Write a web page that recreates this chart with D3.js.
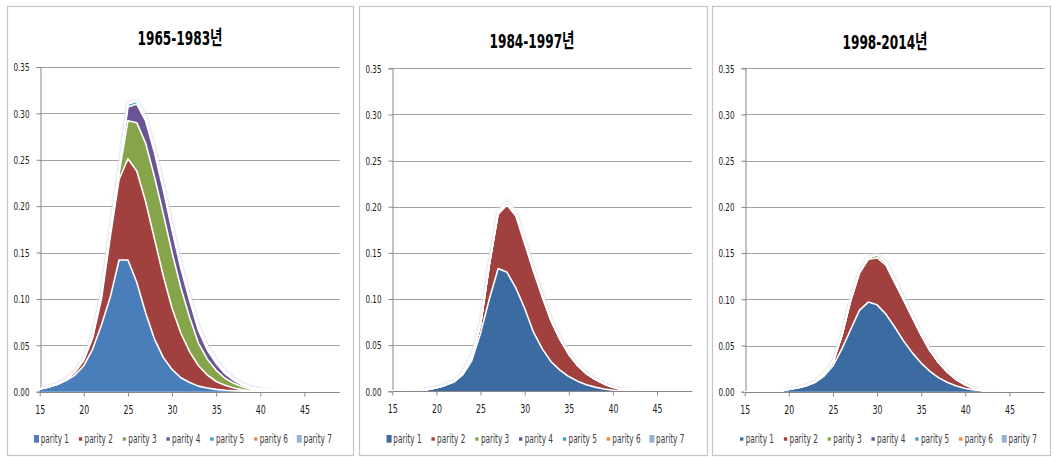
<!DOCTYPE html>
<html>
<head>
<meta charset="utf-8">
<script src="https://cdn.jsdelivr.net/npm/d3@7/dist/d3.min.js"></script>
<style>
  html, body { margin: 0; padding: 0; background: #fff; }
  svg { display: block; }
</style>
</head>
<body>
<svg id="chart" width="1054" height="457"></svg>
<script>
// Age categories (x axis) and axis labels
const ages = [15,16,17,18,19,20,21,22,23,24,25,26,27,28,29,30,31,32,33,34,35,36,37,38,39,40,41,42,43,44,45,46,47,48,49];
const xTickLabels = ["15","20","25","30","35","40","45"];
const yTickLabels = ["0.00","0.05","0.10","0.15","0.20","0.25","0.30","0.35"];
const seriesNames = ["parity 1","parity 2","parity 3","parity 4","parity 5","parity 6","parity 7"];
const periodTitles = ["1965-1983년","1984-1997년","1998-2014년"];

// 1965-1983: age-specific fertility by birth order (ages 15..49)
const p1_1965 = [0.003,0.005,0.008,0.012,0.018,0.028,0.046,0.072,0.102,0.142,0.142,0.118,0.085,0.057,0.037,0.024,0.015,0.010,0.006,0.004,0.0025,0.0015,0.001,0.0006,0.0004,0.0002,0.0001,0,0,0,0,0,0,0,0];
const p2_1965 = [0,0,0,0.001,0.003,0.006,0.012,0.028,0.065,0.087,0.109,0.120,0.120,0.108,0.088,0.066,0.048,0.033,0.022,0.014,0.0085,0.0055,0.003,0.0014,0.0006,0.0003,0.0001,0,0,0,0,0,0,0,0];
const p3_1965 = [0,0,0,0,0.001,0.001,0.002,0.004,0.005,0.007,0.041,0.052,0.063,0.067,0.067,0.060,0.049,0.037,0.024,0.017,0.012,0.0075,0.005,0.003,0.0017,0.0009,0.0004,0.0002,0,0,0,0,0,0,0];
const p4_1965 = [0,0,0,0,0.0001,0.0002,0.0003,0.0005,0.001,0.002,0.015,0.020,0.024,0.026,0.026,0.024,0.021,0.018,0.014,0.010,0.0075,0.005,0.0032,0.002,0.0011,0.0006,0.0003,0.0001,0,0,0,0,0,0,0];
const p5_1965 = [0,0,0,0,0,0.0001,0.0002,0.0003,0.0005,0.001,0.003,0.003,0.003,0.003,0.003,0.003,0.003,0.003,0.003,0.003,0.0025,0.002,0.0013,0.0008,0.0005,0.0003,0.0001,0.0001,0,0,0,0,0,0,0];
const p6_1965 = [0,0,0,0,0,0,0,0,0.0001,0.0002,0.0003,0.0005,0.0006,0.0008,0.001,0.001,0.001,0.001,0.001,0.001,0.0005,0.0005,0.0004,0.0003,0.0002,0.0001,0.0001,0,0,0,0,0,0,0,0];
const p7_1965 = [0,0,0,0,0,0,0,0,0,0,0,0,0.0002,0.0002,0.0002,0.0002,0.0002,0.0002,0.0002,0.0001,0.0001,0,0,0,0,0,0,0,0,0,0,0,0,0,0];

// 1984-1997
const p1_1984 = [0,0,0,0.001,0.002,0.004,0.0065,0.010,0.018,0.033,0.063,0.100,0.133,0.129,0.112,0.090,0.064,0.046,0.032,0.023,0.016,0.011,0.007,0.0045,0.0025,0.0012,0.0005,0.0002,0,0,0,0,0,0,0];
const p2_1984 = [0,0,0,0,0,0,0.0002,0.001,0.002,0.004,0.009,0.037,0.059,0.073,0.078,0.070,0.066,0.056,0.044,0.033,0.024,0.017,0.012,0.0085,0.0055,0.0033,0.0015,0.0008,0.0002,0,0,0,0,0,0];
const p3_1984 = [0,0,0,0,0,0,0,0,0,0.0003,0.0005,0.001,0.002,0.003,0.003,0.0025,0.002,0.0015,0.001,0.0008,0.0005,0.0003,0.0002,0.0001,0,0,0,0,0,0,0,0,0,0,0];
const p4_1984 = [0,0,0,0,0,0,0,0,0,0,0,0,0.0002,0.0003,0.0003,0.0003,0.0002,0.0002,0.0001,0,0,0,0,0,0,0,0,0,0,0,0,0,0,0,0];
const p5_1984 = [0,0,0,0,0,0,0,0,0,0,0,0,0,0.0001,0.0001,0.0001,0.0001,0,0,0,0,0,0,0,0,0,0,0,0,0,0,0,0,0,0];
const p6_1984 = [0,0,0,0,0,0,0,0,0,0,0,0,0,0,0,0,0,0,0,0,0,0,0,0,0,0,0,0,0,0,0,0,0,0,0];
const p7_1984 = [0,0,0,0,0,0,0,0,0,0,0,0,0,0,0,0,0,0,0,0,0,0,0,0,0,0,0,0,0,0,0,0,0,0,0];

// 1998-2014
const p1_1998 = [0,0,0,0,0.0005,0.0025,0.004,0.0065,0.010,0.017,0.028,0.046,0.067,0.088,0.097,0.094,0.084,0.070,0.055,0.042,0.031,0.022,0.015,0.010,0.0062,0.0035,0.0018,0.0007,0.0002,0,0,0,0,0,0];
const p2_1998 = [0,0,0,0,0,0.0001,0.0002,0.0003,0.001,0.002,0.004,0.014,0.031,0.040,0.046,0.051,0.053,0.048,0.044,0.038,0.030,0.022,0.016,0.011,0.0068,0.004,0.0017,0.0005,0.0001,0,0,0,0,0,0];
const p3_1998 = [0,0,0,0,0,0,0,0,0,0,0,0.0005,0.001,0.0015,0.002,0.003,0.003,0.0025,0.002,0.0015,0.001,0.0007,0.0004,0.0002,0.0001,0,0,0,0,0,0,0,0,0,0];
const p4_1998 = [0,0,0,0,0,0,0,0,0,0,0,0,0,0.0001,0.0002,0.0002,0.0002,0.0002,0.0001,0.0001,0,0,0,0,0,0,0,0,0,0,0,0,0,0,0];
const p5_1998 = [0,0,0,0,0,0,0,0,0,0,0,0,0,0,0,0.0001,0.0001,0,0,0,0,0,0,0,0,0,0,0,0,0,0,0,0,0,0];
const p6_1998 = [0,0,0,0,0,0,0,0,0,0,0,0,0,0,0,0,0,0,0,0,0,0,0,0,0,0,0,0,0,0,0,0,0,0,0];
const p7_1998 = [0,0,0,0,0,0,0,0,0,0,0,0,0,0,0,0,0,0,0,0,0,0,0,0,0,0,0,0,0,0,0,0,0,0,0];

const seriesColors = ["#4a7ebb","#a0413f","#86a44a","#6b5495","#3ea4c2","#f08a3a","#95b3d7"];

const periods = [
  { title: periodTitles[0], data: [p1_1965,p2_1965,p3_1965,p4_1965,p5_1965,p6_1965,p7_1965],
    blue: "#4a7ebb", px: 7, pw: 346, plotLeft: 39.7, plotTop: 67, plotBottom: 391.7, titleY: 45, bigMarkers: [0,6] },
  { title: periodTitles[1], data: [p1_1984,p2_1984,p3_1984,p4_1984,p5_1984,p6_1984,p7_1984],
    blue: "#3b6ba0", px: 359, pw: 348, plotLeft: 392.3, plotTop: 68.3, plotBottom: 391.3, titleY: 48, bigMarkers: [0,6] },
  { title: periodTitles[2], data: [p1_1998,p2_1998,p3_1998,p4_1998,p5_1998,p6_1998,p7_1998],
    blue: "#3b6ba0", px: 712, pw: 338, plotLeft: 744.7, plotTop: 68.3, plotBottom: 391.7, titleY: 49, bigMarkers: [6] }
];

const FONT = "'Liberation Sans Narrow','DejaVu Sans Condensed','Liberation Sans','Noto Sans CJK KR',sans-serif";
const svg = d3.select("#chart").style("font-family", FONT);

const defs = svg.append("defs");
defs.append("filter").attr("id", "glow").attr("x", "-5%").attr("y", "-5%").attr("width", "110%").attr("height", "110%")
  .append("feGaussianBlur").attr("stdDeviation", 1.1);

const keys = seriesNames;
const yTickValues = yTickLabels.map(Number);
const xTickValues = xTickLabels.map(Number);

periods.forEach((P, pi) => {
  const g = svg.append("g");
  const plotWidth = 300;
  const plotRight = P.plotLeft + plotWidth;

  // halo clip: keep the glow off the baseline
  defs.append("clipPath").attr("id", `haloClip${pi}`)
    .append("rect")
    .attr("x", P.plotLeft).attr("y", P.plotTop - 20)
    .attr("width", plotWidth + 4).attr("height", P.plotBottom - 3.5 - (P.plotTop - 20));

  // panel frame
  g.append("rect")
    .attr("x", P.px + 0.5).attr("y", 6.5)
    .attr("width", P.pw).attr("height", 449)
    .attr("fill", "#fff").attr("stroke", "#c4c4c4").attr("stroke-width", 1.2);

  // title
  g.append("text")
    .attr("x", P.px + 173).attr("y", P.titleY)
    .attr("text-anchor", "middle")
    .attr("font-size", 20).attr("font-weight", "bold")
    .attr("fill", "#000")
    .attr("textLength", 85).attr("lengthAdjust", "spacingAndGlyphs")
    .text(P.title);

  const x = d3.scaleLinear().domain([ages[0], ages[ages.length - 1]]).range([P.plotLeft, plotRight]);
  const y = d3.scaleLinear().domain([0, 0.35]).range([P.plotBottom, P.plotTop]);

  // horizontal gridlines
  g.append("g").selectAll("line")
    .data(yTickValues.slice(1))
    .join("line")
    .attr("x1", P.plotLeft).attr("x2", plotRight)
    .attr("y1", d => Math.round(y(d)) + 0.5).attr("y2", d => Math.round(y(d)) + 0.5)
    .attr("stroke", "#a3a3a3").attr("stroke-width", 1);

  // y axis
  const yAxis = d3.axisLeft(y).tickValues(yTickValues).tickFormat((d, i) => yTickLabels[i])
    .tickSize(4).tickPadding(7);
  const ya = g.append("g").attr("transform", `translate(${Math.round(P.plotLeft) + 0.5},0)`).call(yAxis);
  ya.select(".domain").attr("stroke", "#868686");
  ya.selectAll(".tick line").attr("stroke", "#868686");
  ya.selectAll(".tick text").attr("font-size", 10.5).attr("fill", "#1a1a1a")
    .style("font-family", FONT).attr("dy", "0.36em")
    .attr("textLength", 16).attr("lengthAdjust", "spacingAndGlyphs");

  // stacked areas
  const table = ages.map((a, i) => {
    const row = { age: a };
    keys.forEach((k, j) => { row[k] = P.data[j][i]; });
    return row;
  });
  const stacked = d3.stack().keys(keys)(table);
  const colors = seriesColors.slice(); colors[0] = P.blue;

  const area = d3.area().x(d => x(d.data.age)).y0(d => y(d[0])).y1(d => y(d[1]));
  const topLine = d3.line().x(d => x(d.data.age)).y(d => y(d[1]));

  const total = stacked[stacked.length - 1];
  // soft halo around the outer edge
  g.append("path").datum(total).attr("d", topLine)
    .attr("clip-path", `url(#haloClip${pi})`)
    .attr("fill", "none").attr("stroke", "#d3dae3").attr("stroke-width", 3.2)
    .attr("filter", "url(#glow)");

  g.append("g").selectAll("path")
    .data(stacked).join("path")
    .attr("d", area).attr("fill", (d, i) => colors[i]);

  g.append("g").selectAll("path")
    .data(stacked).join("path")
    .attr("d", topLine).attr("fill", "none")
    .attr("stroke", "#fff").attr("stroke-width", 1.6).attr("stroke-linejoin", "round");

  // x axis
  const xAxis = d3.axisBottom(x).tickValues(xTickValues).tickFormat((d, i) => xTickLabels[i])
    .tickSize(4).tickSizeOuter(0);
  const xa = g.append("g").attr("transform", `translate(0,${Math.round(P.plotBottom) + 0.5})`).call(xAxis);
  xa.select(".domain").attr("stroke", "#868686").attr("d", `M${P.plotLeft},0H${plotRight}`);
  xa.selectAll(".tick line").attr("stroke", "#868686");
  xa.selectAll(".tick text").attr("font-size", 11.5).attr("fill", "#1a1a1a")
    .style("font-family", FONT).attr("y", 13.3).attr("dy", "0.71em")
    .attr("textLength", 10).attr("lengthAdjust", "spacingAndGlyphs");

  // legend
  const lg = g.append("g");
  seriesNames.forEach((name, i) => {
    const tx = P.plotLeft + 1 + i * 43.8;
    const big = P.bigMarkers.includes(i);
    lg.append("rect")
      .attr("x", big ? tx - 6.7 : tx - 5.7)
      .attr("y", big ? 435 : 437.3)
      .attr("width", big ? 5 : 3.4)
      .attr("height", big ? 7.7 : 3.4)
      .attr("fill", colors[i]);
    lg.append("text")
      .attr("x", tx).attr("y", 442.7)
      .attr("font-size", 11.5).attr("fill", "#3a3a3a")
      .attr("textLength", 28.3).attr("lengthAdjust", "spacingAndGlyphs")
      .text(name);
  });
});
</script>
</body>
</html>
